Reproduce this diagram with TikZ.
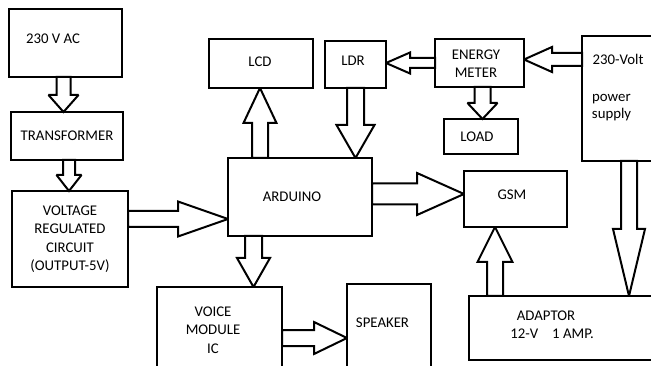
\documentclass[tikz,border=0pt]{standalone}
\usepackage{fontspec}
\setmainfont{Carlito}
\usetikzlibrary{calc}
\tikzset{
  box/.style={draw, line width=2pt, inner sep=0pt, outer sep=0pt, align=center,
    minimum width=#1},
  blk/.style={draw, line width=2pt, fill=white, line join=miter, miter limit=2},
  txt/.style={inner sep=0pt, align=center}
}
\newcommand\blockarr[5]{%
  \coordinate (bs) at (#1);
  \coordinate (bt) at (#2);
  \coordinate (bb) at ($(bt)!#5!(bs)$);
  \draw[blk] ($(bs)!#3!90:(bt)$) -- ($(bb)!#3!90:(bt)$) -- ($(bb)!#4!90:(bt)$)
    -- (bt) -- ($(bb)!#4!-90:(bt)$) -- ($(bb)!#3!-90:(bt)$) -- ($(bs)!#3!-90:(bt)$) -- cycle;
}
\begin{document}
\begin{tikzpicture}[x=1pt, y=-1pt, font=\fontsize{14.8}{18.5}\selectfont]
\useasboundingbox (0,0) rectangle (651,366);
\clip (0,0) rectangle (651,366);
% boxes
\node[box=113pt, minimum height=68pt,
  label={[txt, xshift=-12.5pt, yshift=4pt]center:230 V AC}] (ac) at (65.5,43) {};
\node[box=112pt, minimum height=48pt] (tr) at (67,136) {TRANSFORMER};
\node[box=116pt, minimum height=96pt] (vr) at (70,239) {VOLTAGE\\REGULATED\\CIRCUIT\\(OUTPUT-5V)};
\node[box=144pt, minimum height=78pt,
  label={[txt, xshift=-8pt]center:ARDUINO}] (ard) at (300,197) {};
\node[box=104pt, minimum height=49pt,
  label={[txt, xshift=-1pt, yshift=1.5pt]center:LCD}] (lcd) at (261,63.5) {};
\node[box=61pt, minimum height=47pt,
  label={[txt, xshift=-2.5pt, yshift=3.5pt]center:LDR}] (ldr) at (355.5,64.5) {};
\node[box=89pt, minimum height=48pt,
  label={[txt, xshift=-3.5pt, yshift=-0.5pt]center:ENERGY\\METER}] (em) at (479.5,63) {};
\node[box=74pt, minimum height=35pt,
  label={[txt, xshift=-4pt, yshift=-0.5pt]center:LOAD}] (load) at (481,136.5) {};
\node[box=98pt, minimum height=125pt,
  label={[txt, xshift=-13pt, yshift=39.5pt]center:230-Volt},
  label={[txt, xshift=-19.6pt, yshift=-0.4pt]center:power},
  label={[txt, xshift=-19.4pt, yshift=-15.7pt]center:supply}] (ps) at (631,98.5) {};
\node[box=103pt, minimum height=56pt,
  label={[txt, xshift=-3.5pt, yshift=4pt]center:GSM}] (gsm) at (515.5,199) {};
\node[box=211pt, minimum height=64pt,
  label={[txt, xshift=-28.5pt, yshift=12pt]center:ADAPTOR},
  label={[txt, xshift=-22.5pt, yshift=-6pt]center:12-V\hspace{14pt}1 AMP.}] (ad) at (574.5,328) {};
\node[box=125pt, minimum height=93pt,
  label={[txt, xshift=-6.5pt, yshift=3.5pt]center:VOICE\\MODULE\\IC}] (vm) at (219.5,333.5) {};
\node[box=84pt, minimum height=96pt,
  label={[txt, xshift=-6.5pt, yshift=9pt]center:SPEAKER}] (sp) at (389,332) {};
% block arrows
\blockarr{[xshift=-2pt]ac.south}{tr.north -| bs}{7pt}{15pt}{17pt}
\blockarr{[xshift=2pt]tr.south}{vr.north -| bs}{6pt}{12.5pt}{16pt}
\blockarr{[yshift=20pt]vr.east}{ard.west |- bs}{8pt}{17.5pt}{50pt}
\blockarr{[xshift=-46.5pt]ard.south}{vm.north -| bs}{8.5pt}{16.5pt}{29pt}
\blockarr{[yshift=-4.5pt]vm.east}{sp.west |- bs}{8pt}{16pt}{33pt}
\blockarr{[xshift=-40pt]ard.north}{lcd.south -| bs}{8pt}{16.5pt}{35pt}
\blockarr{ldr.south}{ard.north -| bs}{8.5pt}{19pt}{33pt}
\blockarr{em.west}{ldr.east |- bs}{5pt}{10.5pt}{24pt}
\blockarr{[yshift=39pt]ps.west}{em.east |- bs}{6.5pt}{12.5pt}{28pt}
\blockarr{[xshift=3pt]em.south}{load.north -| bs}{8pt}{15pt}{16pt}
\blockarr{[xshift=-2pt]ps.south}{ad.north -| bs}{8pt}{16pt}{67pt}
\blockarr{[xshift=-79.5pt]ad.north}{gsm.south -| bs}{8pt}{17.5pt}{35pt}
\blockarr{[yshift=3pt]ard.east}{gsm.west |- bs}{10.5pt}{21pt}{47pt}
\end{tikzpicture}
\end{document}
